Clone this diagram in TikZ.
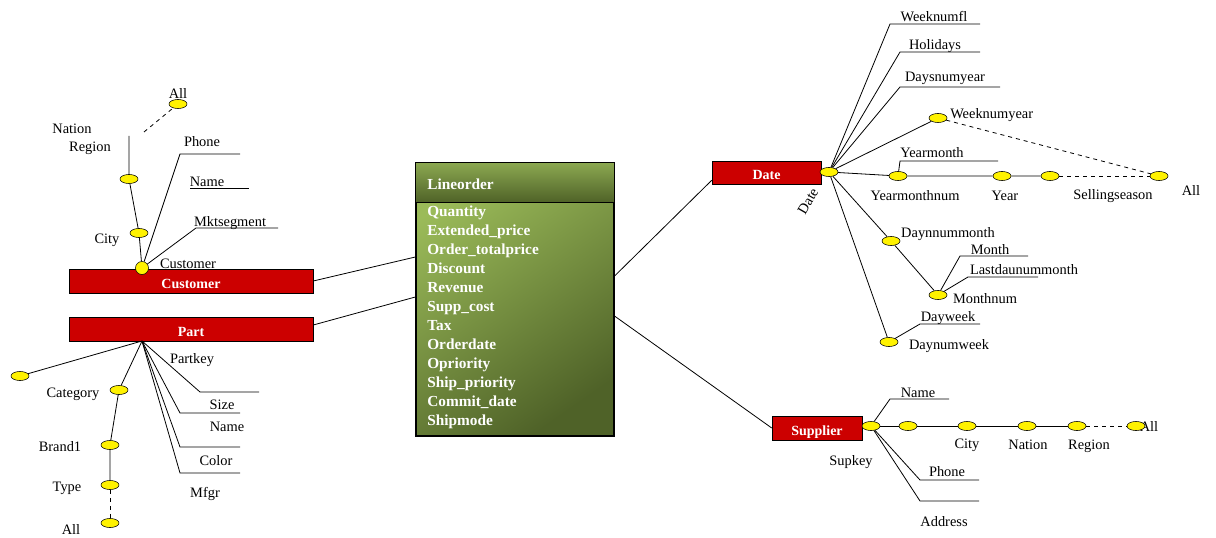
\documentclass[tikz,border=0pt]{standalone}
\usepackage{fontspec}
\setmainfont{Liberation Serif}
\usepackage{xcolor}
\usepackage{tikz}
\usetikzlibrary{shapes.geometric}
\definecolor{dimred}{HTML}{CC0000}
\definecolor{oliveLight}{HTML}{9BBB59}
\definecolor{oliveDark}{HTML}{4F6228}
\tikzset{dimbox/.style={draw,fill=dimred,text=white,inner sep=0,text height=11pt,text depth=0pt,
        font=\bfseries\fontsize{10.5}{12}\selectfont},
    lvl/.style={draw,ellipse,fill=yellow,minimum width=13.5pt,minimum height=6.8pt,inner sep=0},
    keydot/.style={draw,circle,fill=yellow,minimum size=9.75pt,inner sep=0},
    lbl/.style={inner sep=0,font=\fontsize{10.8}{12}\selectfont},
    link/.style={draw,line width=0.6pt}}

\begin{document}
\begin{tikzpicture}[x=0.75pt,y=-0.75pt]
            \useasboundingbox (0,0) rectangle (1216,538);
            % fact table
            \node[draw,line width=0.8pt,minimum width=148.5pt,minimum height=204.75pt,
                top color=oliveLight,bottom color=oliveDark,shading angle=35] (lo) at (515,299.5) {};
            \draw[line width=0.8pt,top color=oliveLight!90!black,bottom color=oliveDark]
                (lo.north west) rectangle ([yshift=-30pt]lo.north east);
            \node[lbl,anchor=west,text=white,font=\bfseries\fontsize{11.5}{13}\selectfont] (loTitle) at (427,184) {Lineorder};
            \node[lbl,anchor=north west,align=left,text=white,font=\bfseries\fontsize{11.5}{14.25}\selectfont] (loFields) at (427,206)
                {Quantity\\Extended\_price\\Order\_totalprice\\Discount\\Revenue\\Supp\_cost\\Tax\\Orderdate\\Opriority\\Ship\_priority\\Commit\_date\\Shipmode};
            % dimensions
            \node[dimbox,minimum width=183pt,minimum height=18pt] (cus) at (191,281) {Customer};
            \node[dimbox,minimum width=183pt,minimum height=18pt] (part) at (191,329) {Part};
            \node[dimbox,minimum width=81.75pt,minimum height=17.25pt] (date) at (766.5,172.5) {Date};
            \node[dimbox,minimum width=67.5pt,minimum height=18pt] (sup) at (817,428) {Supplier};
            \draw[link] (cus.east) -- ([yshift=31.9pt]lo.west);
            \draw[link] ([yshift=3pt]part.east) -- ([yshift=1.9pt]lo.west);
            \draw[link] ([yshift=17.6pt]lo.east) -- ([yshift=3pt]date.south west);
            \draw[link] ([yshift=-12.4pt]lo.east) -- (sup.west);

            % customer
            \node[keydot] (cusKey) at (142,268) {};
            \node[lvl] (cusCity) at (139,233) {};
            \node[lvl] (cusRegion) at (129,179) {};
            \node[lvl] (cusAll) at (178,104) {};
            \coordinate (cusTop) at (129,136);
            \coordinate (cusDash) at (144,132);
            \coordinate (cusPhoneA) at (180,154);
            \coordinate (cusPhoneB) at (240,154);
            \coordinate (cusMktA) at (196,228);
            \coordinate (cusMktB) at (278,228);
            \draw[link] (cusKey) -- (cusCity) -- (cusRegion) -- (cusTop);
            \draw[link,dashed] (cusDash) -- (cusAll);
            \draw[link] (cusKey) -- (cusPhoneA) -- (cusPhoneB);
            \draw[link] (cusKey) -- (cusMktA) -- (cusMktB);
            \draw[link] (190,188) -- (249,188);
            \node[lbl] (cusAllTxt) at (178,94) {All};
            \node[lbl] (cusNationTxt) at (72,129) {Nation};
            \node[lbl] (cusRegionTxt) at (90,148) {Region};
            \node[lbl] (cusCityTxt) at (107,240) {City};
            \node[lbl] (cusPhoneTxt) at (202,142) {Phone};
            \node[lbl] (cusNameTxt) at (207,182) {Name};
            \node[lbl] (cusMktTxt) at (230,223) {Mktsegment};
            \node[lbl] (cusKeyTxt) at (188,264) {Customer};

            % part
            \coordinate (partKey) at (142,341);
            \node[lvl] (partX) at (20,376) {};
            \node[lvl] (partCat) at (119,390) {};
            \node[lvl] (partBrand) at (110,445) {};
            \node[lvl] (partType) at (110,485) {};
            \node[lvl] (partAll) at (110,523) {};
            \draw[link] (partKey) -- (partX);
            \draw[link] (partKey) -- (partCat) -- (partBrand) -- (partType);
            \draw[link,dashed] (partType) -- (partAll);
            \draw[link] (partKey) -- (200,392) -- (259,392);
            \draw[link] (partKey) -- (180,413) -- (240,413);
            \draw[link] (partKey) -- (180,447) -- (240,447);
            \draw[link] (partKey) -- (180,473) -- (240,473);
            \node[lbl] (partCatTxt) at (73,394) {Category};
            \node[lbl] (partBrandTxt) at (60,447) {Brand1};
            \node[lbl] (partTypeTxt) at (67,488) {Type};
            \node[lbl] (partAllTxt) at (71,529) {All};
            \node[lbl] (partKeyTxt) at (192,360) {Partkey};
            \node[lbl] (partSizeTxt) at (222,405) {Size};
            \node[lbl] (partNameTxt) at (227,427) {Name};
            \node[lbl] (partColorTxt) at (216,461) {Color};
            \node[lbl] (partMfgrTxt) at (205,494) {Mfgr};

            % date
            \node[lvl] (dateKey) at (829,172) {};
            \node[lvl] (dateWny) at (938,118) {};
            \node[lvl] (dateYmn) at (898,176) {};
            \node[lvl] (dateYear) at (1002,176) {};
            \node[lvl] (dateSeason) at (1050,176) {};
            \node[lvl] (dateAll) at (1159,176) {};
            \node[lvl] (dateDnm) at (891,241) {};
            \node[lvl] (dateMonthnum) at (938,295) {};
            \node[lvl] (dateDnw) at (889,342) {};
            \draw[link] (dateKey) -- (890,24) -- (980,24);
            \draw[link] (dateKey) -- (900,52) -- (980,52);
            \draw[link] (dateKey) -- (900,87) -- (1000,87);
            \draw[link] (dateKey) -- (dateWny);
            \draw[link,dashed] (dateWny) -- (dateAll);
            \draw[link] (dateKey) -- (dateYmn) -- (dateYear) -- (dateSeason);
            \draw[link,dashed] (dateSeason) -- (dateAll);
            \draw[link] (dateYmn) -- (900,161) -- (998,161);
            \draw[link] (dateKey) -- (dateDnm) -- (dateMonthnum);
            \draw[link] (dateMonthnum) -- (960,256) -- (1028,256);
            \draw[link] (dateMonthnum) -- (968,277) -- (1038,277);
            \draw[link] (dateKey) -- (dateDnw);
            \draw[link] (dateDnw) -- (920,324) -- (980,324);
            \node[lbl,rotate=60] (dateKeyTxt) at (808,201) {Date};
            \node[lbl] (dateWkflTxt) at (934,17) {Weeknumfl};
            \node[lbl] (dateHolTxt) at (935,46) {Holidays};
            \node[lbl] (dateDnyTxt) at (945,78) {Daysnumyear};
            \node[lbl,anchor=west] (dateWnyTxt) at (950,115) {Weeknumyear};
            \node[lbl] (dateYmTxt) at (932,153) {Yearmonth};
            \node[lbl] (dateYmnTxt) at (915,196) {Yearmonthnum};
            \node[lbl] (dateYearTxt) at (1005,196) {Year};
            \node[lbl] (dateSeasonTxt) at (1113,196) {Sellingseason};
            \node[lbl] (dateAllTxt) at (1191,191) {All};
            \node[lbl] (dateDnmTxt) at (948,234) {Daynnummonth};
            \node[lbl] (dateMonthTxt) at (990,250) {Month};
            \node[lbl] (dateLastTxt) at (1024,270) {Lastdaunummonth};
            \node[lbl] (dateMonthnumTxt) at (985,299) {Monthnum};
            \node[lbl] (dateDwTxt) at (948,318) {Dayweek};
            \node[lbl] (dateDnwTxt) at (949,346) {Daynumweek};

            % supplier
            \node[lbl] (supAllTxt) at (1149,427) {All};
            \node[lvl] (supKey) at (871,426) {};
            \node[lvl] (supAddr) at (908,426) {};
            \node[lvl] (supCity) at (967,426) {};
            \node[lvl] (supNation) at (1027,426) {};
            \node[lvl] (supRegion) at (1077,426) {};
            \node[lvl] (supAll) at (1136,426) {};
            \draw[link] (supKey) -- (supAddr) -- (supCity) -- (supNation) -- (supRegion);
            \draw[link,dashed] (supRegion) -- (supAll);
            \draw[link] (supKey) -- (890,399) -- (949,399);
            \draw[link] (supKey) -- (920,480) -- (979,480);
            \draw[link] (supKey) -- (920,501) -- (979,501);
            \node[lbl] (supNameTxt) at (918,393) {Name};
            \node[lbl] (supPhoneTxt) at (947,472) {Phone};
            \node[lbl] (supAddrTxt) at (944,522) {Address};
            \node[lbl] (supKeyTxt) at (851,462) {Supkey};
            \node[lbl] (supCityTxt) at (967,445) {City};
            \node[lbl] (supNationTxt) at (1028,445) {Nation};
            \node[lbl] (supRegionTxt) at (1089,446) {Region};
        \end{tikzpicture}
\end{document}
